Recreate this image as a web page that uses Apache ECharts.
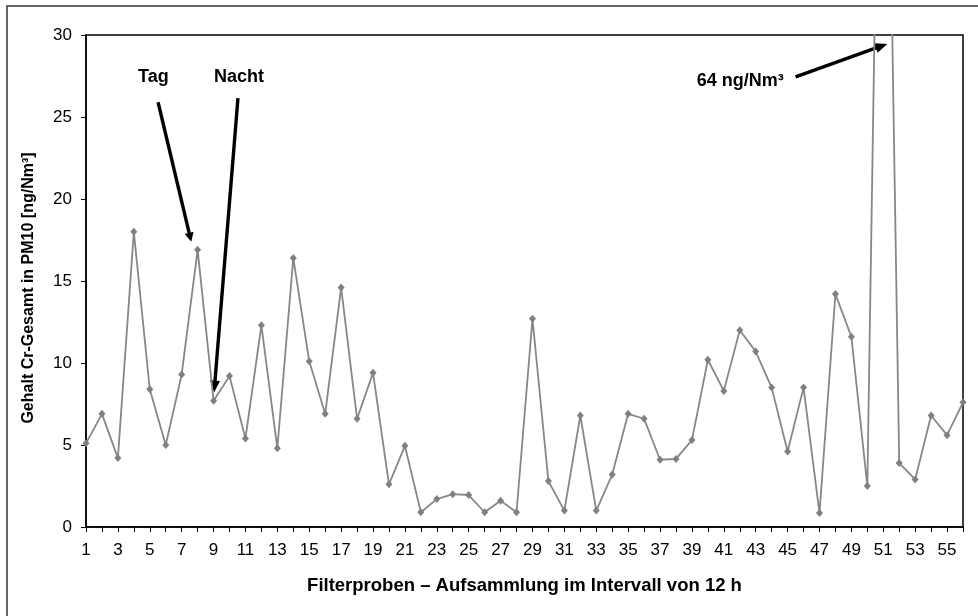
<!DOCTYPE html>
<html>
<head>
<meta charset="utf-8">
<style>
  html, body { margin: 0; padding: 0; background: #fff; }
  #chart { width: 978px; height: 616px; }
</style>
<script src="https://cdn.jsdelivr.net/npm/echarts@6/dist/echarts.min.js"></script>
</head>
<body>
<div id="chart"></div>
<script>
// Sample numbers 1..56 (12 h filter intervals)
const samples = Array.from({ length: 56 }, (_, i) => String(i + 1));

// Total chromium content in PM10 [ng/Nm³]; sample 51 reaches 64 and runs off the axis
const crTotal = [
  5.1, 6.9, 4.2, 18.0, 8.4, 5.0, 9.3, 16.9, 7.7, 9.2,
  5.4, 12.3, 4.8, 16.4, 10.1, 6.9, 14.6, 6.6, 9.4, 2.6,
  4.95, 0.9, 1.7, 2.0, 1.95, 0.9, 1.6, 0.9, 12.7, 2.8,
  1.0, 6.8, 1.0, 3.2, 6.9, 6.6, 4.1, 4.15, 5.3, 10.2,
  8.3, 12.0, 10.7, 8.5, 4.6, 8.5, 0.85, 14.2, 11.6, 2.5,
  64, 3.9, 2.9, 6.8, 5.6, 7.6
];

// Y axis ticks
const yMin = 0, yMax = 30, yStep = 5;

// Annotation arrows: [sample number, value] for the label, the tail and the head
const notes = [
  { text: 'Tag',       label: [4.26, 27.45], from: [5.52, 25.9],   to: [7.6, 17.4],   head: [9, 4.5] },
  { text: 'Nacht',     label: [9.03, 27.45], from: [10.53, 26.15], to: [9.03, 8.2],   head: [12, 5] },
  { text: '64 ng/Nm³', label: [39.3, 27.2],  from: [45.5, 27.45],  to: [51.25, 29.45], head: [12, 5] }
];

const chart = echarts.init(document.getElementById('chart'));
const FONT = '"Liberation Sans", Arial, sans-serif';
const axisFont = { fontFamily: FONT, fontSize: 17, color: '#000' };

chart.setOption({
  animation: false,
  backgroundColor: '#fff',
  grid: { left: 86, right: 15, top: 35, bottom: 89, show: true, borderColor: '#000', borderWidth: 1.5 },
  xAxis: {
    type: 'category',
    data: samples,
    boundaryGap: false,
    name: 'Filterproben – Aufsammlung im Intervall von 12 h',
    nameLocation: 'middle',
    nameGap: 49,
    nameTextStyle: { fontFamily: FONT, fontSize: 18.5, fontWeight: 'bold', color: '#000' },
    axisLine: { lineStyle: { color: '#000', width: 1.5 } },
    axisTick: { show: true, interval: 0, length: 5, lineStyle: { color: '#000' } },
    axisLabel: Object.assign({ interval: 1, margin: 15 }, axisFont),
    splitLine: { show: false }
  },
  yAxis: {
    type: 'value',
    min: yMin, max: yMax, interval: yStep,
    name: 'Gehalt Cr-Gesamt in PM10 [ng/Nm³]',
    nameLocation: 'middle',
    nameGap: 49,
    nameTextStyle: { fontFamily: FONT, fontSize: 16, fontWeight: 'bold', color: '#000', padding: [0, 14, 0, 0] },
    axisLine: { show: true, lineStyle: { color: '#000', width: 1.5 } },
    axisTick: { show: true, length: 5, lineStyle: { color: '#000' } },
    axisLabel: Object.assign({ margin: 14 }, axisFont),
    splitLine: { show: false }
  },
  series: [{
    type: 'line',
    data: crTotal,
    clip: true,
    symbol: 'diamond',
    symbolSize: [7, 8],
    showAllSymbol: true,
    lineStyle: { color: '#878787', width: 1.8 },
    itemStyle: { color: '#808080' }
  }]
});

// Map a fractional sample position and a value to pixels through the axes
function px(pt) {
  const idx = pt[0] - 1;
  const i0 = Math.floor(idx), f = idx - i0;
  const a = chart.convertToPixel({ gridIndex: 0 }, [i0, pt[1]]);
  const b = chart.convertToPixel({ gridIndex: 0 }, [i0 + 1, pt[1]]);
  return [a[0] + f * (b[0] - a[0]), a[1]];
}

// Outer frame (its right and bottom edges run past the canvas)
const elements = [{
  type: 'rect',
  shape: { x: 7, y: 6, width: 980, height: 620 },
  style: { fill: null, stroke: '#333', lineWidth: 1.5 },
  silent: true
}];

// Arrows and their labels
notes.forEach(n => {
  const a = px(n.from), b = px(n.to), l = px(n.label);
  const ang = Math.atan2(b[1] - a[1], b[0] - a[0]);
  const headLen = n.head[0], headW = n.head[1];
  const bx = b[0] - headLen * Math.cos(ang), by = b[1] - headLen * Math.sin(ang);
  const nx = -Math.sin(ang), ny = Math.cos(ang);
  elements.push({
    type: 'line',
    shape: { x1: a[0], y1: a[1], x2: bx + Math.cos(ang), y2: by + Math.sin(ang) },
    style: { stroke: '#000', lineWidth: 3.4 },
    silent: true
  });
  elements.push({
    type: 'polygon',
    shape: { points: [[b[0], b[1]], [bx + nx * headW, by + ny * headW], [bx - nx * headW, by - ny * headW]] },
    style: { fill: '#000' },
    silent: true
  });
  elements.push({
    type: 'text',
    x: l[0], y: l[1],
    style: {
      text: n.text,
      font: 'bold 18px ' + FONT,
      fill: '#000',
      textAlign: 'left',
      textVerticalAlign: 'middle'
    },
    silent: true
  });
});

chart.setOption({ graphic: { elements: elements } });
</script>
</body>
</html>
